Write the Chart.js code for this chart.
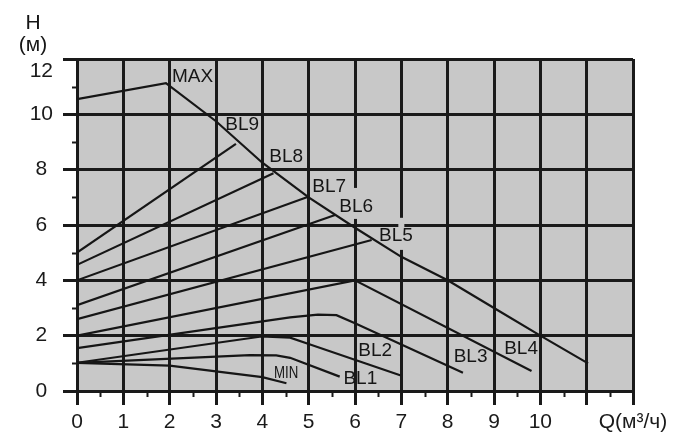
<!DOCTYPE html>
<html>
<head>
<meta charset="utf-8">
<script src="https://cdn.jsdelivr.net/npm/chart.js@4.4.1/dist/chart.umd.min.js"></script>
<style>
  html, body { margin: 0; padding: 0; background: #ffffff; }
  #wrap { width: 687px; height: 435px; }
</style>
</head>
<body>
<div id="wrap"><canvas id="c" width="687" height="435"></canvas></div>
<script>
// ---- data ----
const xTicks = [0, 1, 2, 3, 4, 5, 6, 7, 8, 9, 10, 11, 12];
const xTickLabels = ['0', '1', '2', '3', '4', '5', '6', '7', '8', '9', '10', '', 'Q(м³/ч)'];
const yTickLabels = ['0', '2', '4', '6', '8', '10', '12'];
const yAxisTitle = ['H', '(м)'];

const curveNames = ['MAX', 'BL9', 'BL8', 'BL7', 'BL6', 'BL5', 'BL4', 'BL3', 'BL2', 'BL1', 'MIN'];

const curveMAX = [[0, 10.55], [1.92, 11.13], [3, 9.75], [4, 8.25], [5, 7.0], [6, 5.9], [7, 4.85], [8, 4.0], [9, 3.0], [10, 2.0], [11.03, 1.0]];
const curveBL9 = [[0, 5.0], [3.43, 8.93]];
const curveBL8 = [[0, 4.56], [4.24, 7.87]];
const curveBL7 = [[0, 4.0], [4.99, 7.02]];
const curveBL6 = [[0, 3.1], [5.57, 6.36]];
const curveBL5 = [[0, 2.6], [6.36, 5.46]];
const curveBL4 = [[0, 2.0], [6.0, 4.0], [9.81, 0.72]];
const curveBL3 = [[0, 1.55], [4.6, 2.66], [5.2, 2.76], [5.6, 2.74], [6.0, 2.45], [8.33, 0.66]];
const curveBL2 = [[0, 1.02], [3.98, 1.97], [4.6, 1.93], [5.0, 1.7], [6.99, 0.56]];
const curveBL1 = [[0, 1.02], [3.73, 1.3], [4.3, 1.29], [4.6, 1.2], [5.67, 0.52]];
const curveMIN = [[0, 1.02], [2, 0.92], [4, 0.5], [4.52, 0.28]];

const curves = [curveMAX, curveBL9, curveBL8, curveBL7, curveBL6, curveBL5, curveBL4, curveBL3, curveBL2, curveBL1, curveMIN];

// label anchors (left edge x, vertical centre y) in data units
const labelX = [2.05, 3.2, 4.15, 5.08, 5.66, 6.52, 9.22, 8.13, 6.07, 5.75, 4.25];
const labelY = [11.37, 9.62, 8.47, 7.37, 6.67, 5.6, 1.54, 1.24, 1.46, 0.46, 0.64];

// pieces of vertical grid lines hidden behind labels: [x, yFrom, yTo]
const gridGaps = [[6, 6.22, 7.34], [7, 5.1, 6.26]];

// ---- styling ----
const INK = '#161616';
const GRID = '#1a1a1a';
const PLOT_BG = '#c8c8c8';
const FONT = '"Liberation Sans", Arial, Helvetica, sans-serif';

const datasets = curves.map((pts, i) => ({
  label: curveNames[i],
  data: pts.map(p => ({ x: p[0], y: p[1] })),
  borderColor: INK,
  borderWidth: 2.2,
  pointRadius: 0,
  fill: false,
  tension: 0,
  showLine: true
}));

const decorPlugin = {
  id: 'decor',
  beforeDraw(chart) {
    const { ctx, chartArea: a } = chart;
    ctx.save();
    ctx.fillStyle = PLOT_BG;
    ctx.fillRect(a.left, a.top, a.right - a.left, a.bottom - a.top);
    ctx.restore();
  },
  beforeDatasetsDraw(chart) {
    const { ctx, chartArea: a, scales } = chart;
    const xs = scales.x, ys = scales.y;
    ctx.save();
    ctx.fillStyle = PLOT_BG;
    gridGaps.forEach(g => {
      const px = xs.getPixelForValue(g[0]);
      const y1 = ys.getPixelForValue(g[2]);
      const y0 = ys.getPixelForValue(g[1]);
      ctx.fillRect(px - 3, y1, 6, y0 - y1);
    });
    ctx.strokeStyle = GRID;
    ctx.lineWidth = 2;
    for (let v = 1; v < 12; v += 2) {
      const py = Math.round(ys.getPixelForValue(v)) + 0.5;
      ctx.beginPath();
      ctx.moveTo(a.left - 5, py);
      ctx.lineTo(a.left, py);
      ctx.stroke();
    }
    for (let v = 0.5; v < 12; v += 1) {
      const px = Math.round(xs.getPixelForValue(v)) + 0.5;
      ctx.beginPath();
      ctx.moveTo(px, a.bottom);
      ctx.lineTo(px, a.bottom + 6);
      ctx.stroke();
    }
    ctx.restore();
  },
  afterDatasetsDraw(chart) {
    const { ctx, chartArea: a, scales } = chart;
    const xs = scales.x, ys = scales.y;
    ctx.save();
    ctx.fillStyle = INK;
    ctx.textBaseline = 'middle';
    ctx.textAlign = 'left';
    curveNames.forEach((name, i) => {
      const px = xs.getPixelForValue(labelX[i]);
      const py = ys.getPixelForValue(labelY[i]);
      if (name === 'MIN') {
        ctx.save();
        ctx.translate(px, py);
        ctx.scale(0.78, 1);
        ctx.font = '17px ' + FONT;
        ctx.fillText(name, 0, 0);
        ctx.restore();
      } else {
        ctx.font = '19px ' + FONT;
        ctx.fillText(name, px, py);
      }
    });
    ctx.font = '21px ' + FONT;
    ctx.textAlign = 'center';
    ctx.fillText(yAxisTitle[0], a.left - 44, a.top - 36);
    ctx.fillText(yAxisTitle[1], a.left - 44, a.top - 14);
    ctx.restore();
  }
};

new Chart(document.getElementById('c'), {
  type: 'scatter',
  data: { datasets },
  options: {
    responsive: false,
    devicePixelRatio: 1,
    animation: false,
    events: [],
    layout: { padding: { top: 59, right: 54, left: 0, bottom: 0 } },
    plugins: { legend: { display: false }, tooltip: { enabled: false }, title: { display: false } },
    scales: {
      x: {
        type: 'linear',
        min: 0, max: 12,
        afterFit(s) { s.height = 44; },
        afterBuildTicks(s) { s.ticks = xTicks.map(v => ({ value: v })); },
        ticks: {
          autoSkip: false,
          maxRotation: 0,
          padding: 5,
          color: '#1a1a1a',
          font: { family: FONT, size: 21 },
          callback: (v) => { const i = xTicks.indexOf(v); return i >= 0 ? xTickLabels[i] : ''; }
        },
        grid: { color: GRID, lineWidth: 3, tickLength: 14, tickColor: GRID, tickWidth: 3, drawTicks: true },
        border: { display: true, color: GRID, width: 3 }
      },
      y: {
        type: 'linear',
        min: 0, max: 12,
        afterFit(s) { s.width = 77; },
        afterBuildTicks(s) { s.ticks = yTickLabels.map((t, i) => ({ value: i * 2 })); },
        ticks: {
          autoSkip: false,
          padding: 10,
          crossAlign: 'center',
          color: '#1a1a1a',
          font: { family: FONT, size: 21 },
          callback: (v) => { const t = yTickLabels[Math.round(v / 2)]; return v === 12 ? ['', t] : t; }
        },
        grid: { color: GRID, lineWidth: 3, tickLength: 14, tickColor: GRID, tickWidth: 3, drawTicks: true },
        border: { display: true, color: GRID, width: 3 }
      }
    }
  },
  plugins: [decorPlugin]
});
</script>
</body>
</html>
